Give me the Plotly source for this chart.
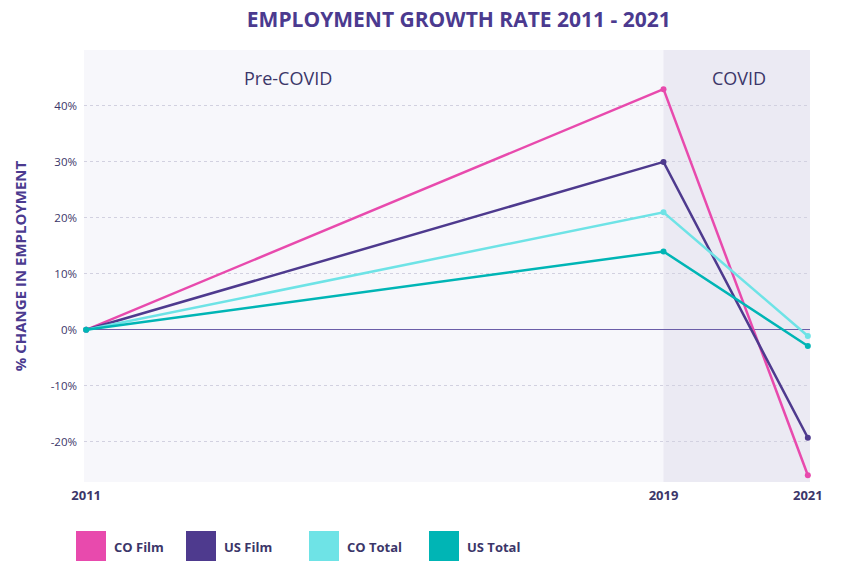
import plotly.graph_objects as go

years = [2011, 2019, 2021]
series_names = ["CO Film", "US Film", "CO Total", "US Total"]
co_film = [0, 43, -26]
us_film = [0, 30, -19.3]
co_total = [0, 21, -1.1]
us_total = [0, 14, -2.9]
series_values = [co_film, us_film, co_total, us_total]
colors = ["#e84aad", "#4e3a8e", "#6ee3e6", "#00b5b5"]
y_ticks = [-20, -10, 0, 10, 20, 30, 40]
y_tick_labels = ["-20%", "-10%", "0%", "10%", "20%", "30%", "40%"]
period_labels = ["Pre-COVID", "COVID"]

dark = "#3b3669"
title_col = "#4b3a8f"
FONT = "Open Sans"

fig = go.Figure()

# COVID shaded region
fig.add_vrect(x0=2019, x1=2021.03, fillcolor="#ebeaf3", line_width=0, layer="below")

for name, vals, col in zip(series_names, series_values, colors):
    fig.add_trace(go.Scatter(
        x=years, y=vals, name=name, mode="lines+markers",
        line=dict(color=col, width=2.5),
        marker=dict(color=col, size=6),
        cliponaxis=False, showlegend=False,
    ))

fig.add_annotation(x=2013.8, y=45, text=period_labels[0], showarrow=False,
                   font=dict(family=FONT, size=18, color=dark), xref="x", yref="y")
fig.add_annotation(x=2020.05, y=45, text=period_labels[1], showarrow=False,
                   font=dict(family=FONT, size=18, color=dark), xref="x", yref="y")

# custom legend swatches
L, R, T, B = 84, 35, 50, 79
W, H = 845 - L - R, 561 - T - B
def px(x):
    return (x - L) / W
def py(y):
    return (561 - B - y) / H

swatch_x = [76, 186, 309, 429]
for sx, name, col in zip(swatch_x, series_names, colors):
    fig.add_shape(type="rect", xref="paper", yref="paper",
                  x0=px(sx), x1=px(sx + 30), y0=py(562), y1=py(531),
                  fillcolor=col, line_width=0)
    fig.add_annotation(xref="paper", yref="paper", x=px(sx + 36), y=py(547),
                       text=f"<b>{name}</b>", showarrow=False, xanchor="left",
                       yanchor="middle",
                       font=dict(family=FONT, size=13, color=dark))

fig.update_layout(
    width=845, height=561,
    margin=dict(l=L, r=R, t=T, b=B),
    paper_bgcolor="white",
    plot_bgcolor="#f7f7fb",
    title=dict(text="<b>EMPLOYMENT GROWTH RATE 2011 - 2021</b>", x=0.543, xanchor="center",
               y=0.965, yanchor="middle",
               font=dict(family=FONT, size=21, color=title_col)),
    showlegend=False,
)
fig.update_xaxes(
    range=[2010.97, 2021.03], tickvals=years, ticktext=[f"<b>{y}</b>" for y in years],
    showgrid=False, zeroline=False, showline=False,
    tickfont=dict(family=FONT, size=13, color=dark), ticklabelstandoff=4,
)
fig.update_yaxes(
    range=[-27.2, 50], tickvals=y_ticks, ticktext=y_tick_labels,
    showgrid=True, gridcolor="#d2d1e0", griddash="dot", gridwidth=1,
    zeroline=True, zerolinecolor="#6b5ea8", zerolinewidth=1.2, showline=False,
    tickfont=dict(family=FONT, size=11.5, color=dark), ticklabelstandoff=6,
    title=dict(text="<b>% CHANGE IN EMPLOYMENT</b>", standoff=20,
               font=dict(family=FONT, size=15, color=title_col)),
)

fig.write_html("out.html")
